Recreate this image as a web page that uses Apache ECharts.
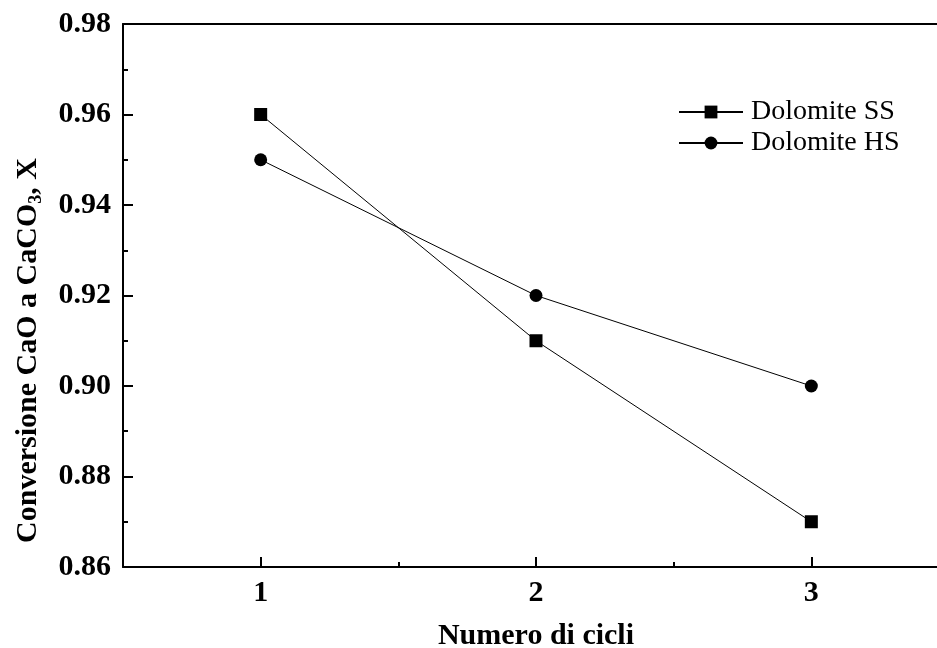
<!DOCTYPE html>
<html>
<head>
<meta charset="utf-8">
<script src="https://cdn.jsdelivr.net/npm/echarts@6/dist/echarts.min.js"></script>
<style>html,body{margin:0;padding:0;background:#fff;overflow:hidden}#c{width:949px;height:648px}</style>
</head>
<body>
<div id="c"></div>
<script>
const cycles = [1, 2, 3];
const xTickValues = [1, 2, 3];
const dolomiteSS = [0.96, 0.91, 0.87];
const dolomiteHS = [0.95, 0.92, 0.90];
const seriesNames = ['Dolomite SS', 'Dolomite HS'];

const FONT = '"Liberation Serif", "Times New Roman", serif';
const chart = echarts.init(document.getElementById('c'), null, {renderer: 'canvas'});

const axisLine = {show: true, lineStyle: {color: '#000', width: 2}};

chart.setOption({
  backgroundColor: '#fff',
  animation: false,
  grid: {left: 123, right: 0, top: 24, bottom: 81, outerBoundsMode: 'none', containLabel: false},
  legend: {
    orient: 'vertical',
    left: 678,
    top: 98,
    padding: 0,
    itemWidth: 64,
    itemHeight: 16,
    itemGap: 3,
    data: seriesNames,
    textStyle: {fontFamily: FONT, fontSize: 28, color: '#000', padding: [0, 0, 0, 3]},
    inactiveColor: '#000'
  },
  xAxis: [
    {
      type: 'value', min: 0.5, max: 3.5, position: 'bottom',
      axisLine: axisLine,
      splitLine: {show: false},
      axisTick: {show: true, inside: true, length: 10, lineStyle: {color: '#000', width: 2}, customValues: xTickValues},
      axisLabel: {show: true, customValues: xTickValues, margin: 11, fontFamily: FONT, fontSize: 30, fontWeight: 'bold', color: '#000'},
      name: 'Numero di cicli', nameLocation: 'middle', nameGap: 54,
      nameTextStyle: {fontFamily: FONT, fontSize: 30, fontWeight: 'bold', color: '#000'}
    },
    {
      type: 'value', min: 0.5, max: 3.5, interval: 1, position: 'bottom',
      axisLine: {show: false}, splitLine: {show: false},
      axisTick: {show: true, inside: true, length: 5, lineStyle: {color: '#000', width: 2}},
      axisLabel: {show: false}
    },
    {
      type: 'value', min: 0.5, max: 3.5, position: 'top',
      axisLine: axisLine, splitLine: {show: false},
      axisTick: {show: false}, axisLabel: {show: false}
    }
  ],
  yAxis: {
    type: 'value', min: 0.86, max: 0.98, interval: 0.02,
    axisLine: axisLine,
    splitLine: {show: false},
    axisTick: {show: true, inside: true, length: 10, lineStyle: {color: '#000', width: 2}},
    minorTick: {show: true, splitNumber: 2, length: 5, lineStyle: {color: '#000', width: 2}},
    minorSplitLine: {show: false},
    axisLabel: {margin: 12, fontFamily: FONT, fontSize: 30, fontWeight: 'bold', color: '#000',
      formatter: v => v.toFixed(2)},
    name: '{a|Conversione CaO a CaCO}{s|3}{a|, X}',
    nameLocation: 'middle', nameGap: 78, nameRotate: 90,
    nameTextStyle: {
      color: '#000',
      padding: [0, 110, 0, 0],
      rich: {
        a: {fontFamily: FONT, fontSize: 30, fontWeight: 'bold', color: '#000', lineHeight: 34},
        s: {fontFamily: FONT, fontSize: 18, fontWeight: 'bold', color: '#000', lineHeight: 16, verticalAlign: 'bottom'}
      }
    }
  },
  series: [
    {
      name: seriesNames[0], type: 'line', xAxisIndex: 0,
      data: cycles.map((c, i) => [c, dolomiteSS[i]]),
      symbol: 'rect', symbolSize: 13,
      itemStyle: {color: '#000'},
      lineStyle: {color: '#000', width: 1}
    },
    {
      name: seriesNames[1], type: 'line', xAxisIndex: 0,
      data: cycles.map((c, i) => [c, dolomiteHS[i]]),
      symbol: 'circle', symbolSize: 13,
      itemStyle: {color: '#000'},
      lineStyle: {color: '#000', width: 1}
    }
  ]
});
</script>
</body>
</html>
